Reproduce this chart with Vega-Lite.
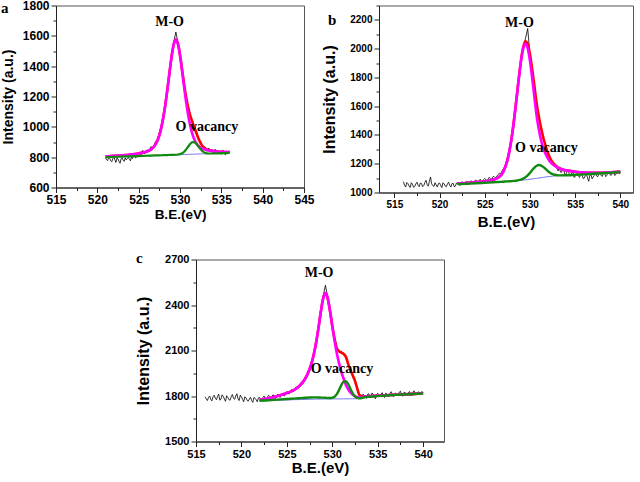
{
  "$schema": "https://vega.github.io/schema/vega-lite/v6.json",
  "padding": {"left": 0, "top": -1.5, "right": 0, "bottom": 0},
  "background": "white",
  "datasets": {
    "a_raw": [
      {"x":521,"y":795},{"x":521.25,"y":778},{"x":521.5,"y":792},{"x":521.75,"y":770},{"x":522,"y":800},{"x":522.25,"y":765},{"x":522.5,"y":788},{"x":522.75,"y":760},
      {"x":523,"y":795},{"x":523.25,"y":772},{"x":523.5,"y":782},{"x":523.75,"y":800},{"x":524,"y":776},{"x":524.25,"y":790},{"x":524.5,"y":812},{"x":524.75,"y":800},
      {"x":525,"y":832},{"x":525.25,"y":812},{"x":525.5,"y":845},{"x":525.75,"y":822},{"x":526,"y":848},{"x":526.25,"y":835},{"x":526.5,"y":870},{"x":526.75,"y":855},
      {"x":527,"y":900},{"x":527.25,"y":915},{"x":527.5,"y":960},{"x":527.75,"y":1010},{"x":528,"y":1080},{"x":528.25,"y":1150},{"x":528.5,"y":1270},{"x":528.75,"y":1360},
      {"x":529,"y":1480},{"x":529.25,"y":1560},{"x":529.5,"y":1625},{"x":529.75,"y":1555},{"x":530,"y":1490},{"x":530.25,"y":1365},{"x":530.5,"y":1295},{"x":530.75,"y":1180},
      {"x":531,"y":1140},{"x":531.25,"y":1060},{"x":531.5,"y":1045},{"x":531.75,"y":985},{"x":532,"y":970},{"x":532.25,"y":910},{"x":532.5,"y":905},{"x":532.75,"y":858},
      {"x":533,"y":870},{"x":533.25,"y":838},{"x":533.5,"y":860},{"x":533.75,"y":845},{"x":534,"y":830},{"x":534.25,"y":852},{"x":534.5,"y":822},{"x":534.75,"y":840},
      {"x":535,"y":818},{"x":535.25,"y":845},{"x":535.5,"y":815},{"x":535.75,"y":832},{"x":536,"y":838},
      {"x":521.125,"y":782},{"x":521.375,"y":800},{"x":521.625,"y":776},{"x":521.875,"y":790},{"x":522.125,"y":782},{"x":522.375,"y":795},{"x":522.625,"y":772},{"x":522.875,"y":790},
      {"x":523.125,"y":780},{"x":523.375,"y":796},{"x":523.625,"y":790},{"x":523.875,"y":786},{"x":524.125,"y":800},{"x":524.375,"y":808},{"x":524.625,"y":795},{"x":524.875,"y":818},
      {"x":525.125,"y":822},{"x":525.375,"y":830},{"x":525.625,"y":828},{"x":525.875,"y":840},{"x":526.125,"y":838},{"x":526.375,"y":852},{"x":526.625,"y":848},{"x":526.875,"y":878},
      {"x":533.125,"y":850},{"x":533.375,"y":848},{"x":533.625,"y":838},{"x":533.875,"y":852},{"x":534.125,"y":840},{"x":534.375,"y":835},{"x":534.625,"y":832},{"x":534.875,"y":828},
      {"x":535.125,"y":830},{"x":535.375,"y":826},{"x":535.625,"y":835},{"x":535.875,"y":826}
    ],
    "a_fit": [
      {"x":521,"fit":805,"mo":805,"ov":800,"bg":800},
      {"x":522,"fit":808.3,"mo":808.3,"ov":801.9,"bg":801.9},
      {"x":523,"fit":812.1,"mo":812.1,"ov":803.7,"bg":803.7},
      {"x":524,"fit":817.3,"mo":817.3,"ov":805.6,"bg":805.6},
      {"x":525,"fit":824.7,"mo":824.7,"ov":807.5,"bg":807.5},
      {"x":525.5,"fit":829.9,"mo":829.9,"ov":808.4,"bg":808.4},
      {"x":526,"fit":837.6,"mo":837.6,"ov":809.3,"bg":809.3},
      {"x":526.5,"fit":851.4,"mo":851.4,"ov":810.3,"bg":810.3},
      {"x":527,"fit":880.5,"mo":880.5,"ov":811.2,"bg":811.2},
      {"x":527.5,"fit":944.4,"mo":944.4,"ov":812.1,"bg":812.1},
      {"x":527.75,"fit":997.4,"mo":997.4,"ov":812.6,"bg":812.6},
      {"x":528,"fit":1067.5,"mo":1067.5,"ov":813.1,"bg":813.1},
      {"x":528.25,"fit":1155,"mo":1155,"ov":813.5,"bg":813.5},
      {"x":528.5,"fit":1257,"mo":1257,"ov":814,"bg":814},
      {"x":528.75,"fit":1366.3,"mo":1366.3,"ov":814.5,"bg":814.5},
      {"x":529,"fit":1469.3,"mo":1469.3,"ov":814.9,"bg":814.9},
      {"x":529.25,"fit":1546.4,"mo":1546.4,"ov":815.4,"bg":815.4},
      {"x":529.5,"fit":1575.9,"mo":1575.9,"ov":815.9,"bg":815.9},
      {"x":529.75,"fit":1548.5,"mo":1547.3,"ov":817.5,"bg":816.3},
      {"x":530,"fit":1474.7,"mo":1471.2,"ov":820.3,"bg":816.8},
      {"x":530.25,"fit":1377.7,"mo":1369.1,"ov":825.9,"bg":817.3},
      {"x":530.5,"fit":1278.9,"mo":1260.7,"ov":835.9,"bg":817.7},
      {"x":530.75,"fit":1192.8,"mo":1159.7,"ov":851.3,"bg":818.2},
      {"x":531,"fit":1124.6,"mo":1073.1,"ov":870.2,"bg":818.7},
      {"x":531.25,"fit":1072.8,"mo":1003.9,"ov":888,"bg":819.1},
      {"x":531.5,"fit":1030.9,"mo":951.9,"ov":898.6,"bg":819.6},
      {"x":531.75,"fit":992.9,"mo":915.1,"ov":897.9,"bg":820.1},
      {"x":532,"fit":955.6,"mo":889.8,"ov":886.3,"bg":820.5},
      {"x":532.25,"fit":921.2,"mo":873.4,"ov":868.8,"bg":821},
      {"x":532.5,"fit":892.4,"mo":862.6,"ov":851.3,"bg":821.5},
      {"x":532.75,"fit":871.4,"mo":855.5,"ov":837.8,"bg":821.9},
      {"x":533,"fit":858,"mo":850.7,"ov":829.7,"bg":822.4},
      {"x":533.5,"fit":845.8,"mo":844.8,"ov":824.3,"bg":823.3},
      {"x":534,"fit":840,"mo":840,"ov":824.3,"bg":824.3},
      {"x":535,"fit":835,"mo":835,"ov":826.1,"bg":826.1},
      {"x":536,"fit":833,"mo":833,"ov":828,"bg":828}
    ],
    "a_txt": [
      {"x":527.0,"y":1663,"t":"M-O"},
      {"x":529.47,"y":971,"t":"O vacancy"}
    ],
    "b_raw": [
      {"x":516,"y":1075},{"x":516.25,"y":1038},{"x":516.5,"y":1062},{"x":516.75,"y":1035},{"x":517,"y":1058},{"x":517.25,"y":1042},{"x":517.5,"y":1072},{"x":517.75,"y":1040},
      {"x":518,"y":1063},{"x":518.25,"y":1048},{"x":518.5,"y":1085},{"x":518.75,"y":1044},{"x":519,"y":1108},{"x":519.25,"y":1048},{"x":519.5,"y":1068},{"x":519.75,"y":1038},
      {"x":520,"y":1066},{"x":520.25,"y":1034},{"x":520.5,"y":1060},{"x":520.75,"y":1040},{"x":521,"y":1072},{"x":521.25,"y":1038},{"x":521.5,"y":1064},{"x":521.75,"y":1044},
      {"x":522,"y":1070},{"x":522.25,"y":1048},{"x":522.5,"y":1076},{"x":522.75,"y":1052},{"x":523,"y":1078},{"x":523.25,"y":1056},{"x":523.5,"y":1082},{"x":523.75,"y":1060},
      {"x":524,"y":1088},{"x":524.25,"y":1066},{"x":524.5,"y":1092},{"x":524.75,"y":1070},{"x":525,"y":1098},{"x":525.25,"y":1080},{"x":525.5,"y":1106},{"x":525.75,"y":1090},
      {"x":526,"y":1112},{"x":526.25,"y":1100},{"x":526.5,"y":1125},{"x":526.75,"y":1128},{"x":527,"y":1160},{"x":527.25,"y":1180},{"x":527.5,"y":1240},{"x":527.75,"y":1300},
      {"x":528,"y":1400},{"x":528.25,"y":1505},{"x":528.5,"y":1655},{"x":528.75,"y":1775},{"x":529,"y":1925},{"x":529.25,"y":2000},{"x":529.5,"y":2070},{"x":529.75,"y":2140},
      {"x":530,"y":1960},{"x":530.25,"y":1870},{"x":530.5,"y":1725},{"x":530.75,"y":1625},{"x":531,"y":1510},{"x":531.25,"y":1450},{"x":531.5,"y":1365},{"x":531.75,"y":1330},
      {"x":532,"y":1262},{"x":532.25,"y":1245},{"x":532.5,"y":1195},{"x":532.75,"y":1200},{"x":533,"y":1165},{"x":533.25,"y":1175},{"x":533.5,"y":1140},{"x":533.75,"y":1158},
      {"x":534,"y":1130},{"x":534.25,"y":1150},{"x":534.5,"y":1115},{"x":534.75,"y":1140},{"x":535,"y":1110},{"x":535.25,"y":1135},{"x":535.5,"y":1105},{"x":535.75,"y":1130},
      {"x":536,"y":1100},{"x":536.25,"y":1128},{"x":536.5,"y":1078},{"x":536.75,"y":1125},{"x":537,"y":1108},{"x":537.25,"y":1135},{"x":537.5,"y":1110},{"x":537.75,"y":1138},
      {"x":538,"y":1112},{"x":538.25,"y":1140},{"x":538.5,"y":1118},{"x":538.75,"y":1145},{"x":539,"y":1120},{"x":539.25,"y":1150},{"x":539.5,"y":1125},{"x":539.75,"y":1152},
      {"x":540,"y":1135},
      {"x":516.125,"y":1050},{"x":516.375,"y":1070},{"x":516.625,"y":1045},{"x":516.875,"y":1068},{"x":517.125,"y":1036},{"x":517.375,"y":1060},{"x":517.625,"y":1050},{"x":517.875,"y":1066},
      {"x":518.125,"y":1040},{"x":518.375,"y":1070},{"x":518.625,"y":1055},{"x":518.875,"y":1078},{"x":519.125,"y":1060},{"x":519.375,"y":1042},{"x":519.625,"y":1052},{"x":519.875,"y":1062},
      {"x":520.125,"y":1048},{"x":520.375,"y":1068},{"x":520.625,"y":1045},{"x":520.875,"y":1060},{"x":521.125,"y":1050},{"x":521.375,"y":1062},{"x":521.625,"y":1040},{"x":521.875,"y":1066},
      {"x":522.125,"y":1058},{"x":522.375,"y":1066},{"x":522.625,"y":1060},{"x":522.875,"y":1072},{"x":523.125,"y":1062},{"x":523.375,"y":1074},{"x":523.625,"y":1070},{"x":523.875,"y":1080},
      {"x":524.125,"y":1075},{"x":524.375,"y":1084},{"x":524.625,"y":1078},{"x":524.875,"y":1090},{"x":525.125,"y":1088},{"x":525.375,"y":1094},{"x":525.625,"y":1096},{"x":525.875,"y":1108},
      {"x":526.125,"y":1104},{"x":526.375,"y":1118},{"x":526.625,"y":1135},{"x":526.875,"y":1145},
      {"x":533.125,"y":1150},{"x":533.375,"y":1142},{"x":533.625,"y":1165},{"x":533.875,"y":1120},{"x":534.125,"y":1145},{"x":534.375,"y":1122},{"x":534.625,"y":1138},{"x":534.875,"y":1105},
      {"x":535.125,"y":1128},{"x":535.375,"y":1112},{"x":535.625,"y":1138},{"x":535.875,"y":1098},{"x":536.125,"y":1118},{"x":536.375,"y":1100},{"x":536.625,"y":1120},{"x":536.875,"y":1095},
      {"x":537.125,"y":1122},{"x":537.375,"y":1115},{"x":537.625,"y":1130},{"x":537.875,"y":1118},{"x":538.125,"y":1132},{"x":538.375,"y":1110},{"x":538.625,"y":1148},{"x":538.875,"y":1122},
      {"x":539.125,"y":1135},{"x":539.375,"y":1118},{"x":539.625,"y":1140},{"x":539.875,"y":1130}
    ],
    "b_fit": [
      {"x":522,"fit":1062,"mo":1062,"ov":1058,"bg":1058},
      {"x":523,"fit":1066.3,"mo":1066.3,"ov":1061,"bg":1061},
      {"x":524,"fit":1071.3,"mo":1071.3,"ov":1064,"bg":1064},
      {"x":525,"fit":1078.2,"mo":1078.2,"ov":1067.5,"bg":1067.5},
      {"x":526,"fit":1089.7,"mo":1089.7,"ov":1071,"bg":1071},
      {"x":526.5,"fit":1103.8,"mo":1103.8,"ov":1073,"bg":1073},
      {"x":527,"fit":1138.8,"mo":1138.8,"ov":1075,"bg":1075},
      {"x":527.5,"fit":1223.2,"mo":1223.2,"ov":1077,"bg":1077},
      {"x":527.75,"fit":1295,"mo":1295,"ov":1078,"bg":1078},
      {"x":528,"fit":1390.6,"mo":1390.6,"ov":1079,"bg":1079},
      {"x":528.25,"fit":1509.1,"mo":1509.1,"ov":1080.5,"bg":1080.5},
      {"x":528.5,"fit":1644.8,"mo":1644,"ov":1082.8,"bg":1082},
      {"x":528.75,"fit":1785.2,"mo":1783.1,"ov":1085.6,"bg":1083.5},
      {"x":529,"fit":1913.5,"mo":1908.9,"ov":1089.6,"bg":1085},
      {"x":529.25,"fit":2008.7,"mo":1999.3,"ov":1096.2,"bg":1086.8},
      {"x":529.5,"fit":2050.9,"mo":2033.5,"ov":1105.9,"bg":1088.5},
      {"x":529.75,"fit":2031.9,"mo":2002.7,"ov":1119.4,"bg":1090.2},
      {"x":530,"fit":1960.4,"mo":1915.9,"ov":1136.5,"bg":1092},
      {"x":530.25,"fit":1855.2,"mo":1793.8,"ov":1155.6,"bg":1094.2},
      {"x":530.5,"fit":1735.3,"mo":1658.5,"ov":1173.3,"bg":1096.5},
      {"x":530.75,"fit":1614.6,"mo":1527.4,"ov":1186,"bg":1098.8},
      {"x":531,"fit":1521.6,"mo":1431.8,"ov":1190.8,"bg":1101},
      {"x":531.25,"fit":1442.3,"mo":1358.4,"ov":1187.1,"bg":1103.2},
      {"x":531.5,"fit":1375.1,"mo":1304,"ov":1176.6,"bg":1105.5},
      {"x":531.75,"fit":1320.2,"mo":1265.6,"ov":1162.4,"bg":1107.8},
      {"x":532,"fit":1273.2,"mo":1235.2,"ov":1148,"bg":1110},
      {"x":532.25,"fit":1236,"mo":1212,"ov":1135.8,"bg":1111.8},
      {"x":532.5,"fit":1210.5,"mo":1196.7,"ov":1127.3,"bg":1113.5},
      {"x":533,"fit":1179,"mo":1175.6,"ov":1120.4,"bg":1117},
      {"x":533.5,"fit":1162.6,"mo":1162,"ov":1119.1,"bg":1118.5},
      {"x":534,"fit":1154,"mo":1154,"ov":1120,"bg":1120},
      {"x":535,"fit":1144.7,"mo":1144.7,"ov":1123,"bg":1123},
      {"x":536,"fit":1139.2,"mo":1139.2,"ov":1126,"bg":1126},
      {"x":537,"fit":1137.6,"mo":1137.6,"ov":1130,"bg":1130},
      {"x":538,"fit":1137.8,"mo":1137.8,"ov":1134,"bg":1134},
      {"x":539,"fit":1140.8,"mo":1140.8,"ov":1138,"bg":1138},
      {"x":540,"fit":1143.9,"mo":1143.9,"ov":1142,"bg":1142}
    ],
    "b_txt": [
      {"x":527.25,"y":2149,"t":"M-O"},
      {"x":528.35,"y":1282,"t":"O vacancy"}
    ],
    "c_raw": [
      {"x":516,"y":1795},{"x":516.25,"y":1770},{"x":516.5,"y":1800},{"x":516.75,"y":1768},{"x":517,"y":1805},{"x":517.25,"y":1775},{"x":517.5,"y":1812},{"x":517.75,"y":1780},
      {"x":518,"y":1798},{"x":518.25,"y":1765},{"x":518.5,"y":1790},{"x":518.75,"y":1772},{"x":519,"y":1810},{"x":519.25,"y":1778},{"x":519.5,"y":1815},{"x":519.75,"y":1770},
      {"x":520,"y":1795},{"x":520.25,"y":1762},{"x":520.5,"y":1788},{"x":520.75,"y":1765},{"x":521,"y":1792},{"x":521.25,"y":1758},{"x":521.5,"y":1785},{"x":521.75,"y":1762},
      {"x":522,"y":1790},{"x":522.25,"y":1768},{"x":522.5,"y":1800},{"x":522.75,"y":1775},{"x":523,"y":1805},{"x":523.25,"y":1778},{"x":523.5,"y":1808},{"x":523.75,"y":1782},
      {"x":524,"y":1812},{"x":524.25,"y":1790},{"x":524.5,"y":1818},{"x":524.75,"y":1800},{"x":525,"y":1830},{"x":525.25,"y":1812},{"x":525.5,"y":1842},{"x":525.75,"y":1830},
      {"x":526,"y":1860},{"x":526.25,"y":1850},{"x":526.5,"y":1885},{"x":526.75,"y":1880},{"x":527,"y":1925},{"x":527.25,"y":1930},{"x":527.5,"y":1985},{"x":527.75,"y":2030},
      {"x":528,"y":2095},{"x":528.25,"y":2160},{"x":528.5,"y":2270},{"x":528.75,"y":2350},{"x":529,"y":2460},{"x":529.25,"y":2530},{"x":529.5,"y":2450},{"x":529.75,"y":2375},
      {"x":530,"y":2255},{"x":530.25,"y":2190},{"x":530.5,"y":2120},{"x":530.75,"y":2090},{"x":531,"y":2095},{"x":531.25,"y":2070},{"x":531.5,"y":2065},{"x":531.75,"y":2005},
      {"x":532,"y":1980},{"x":532.25,"y":1925},{"x":532.5,"y":1910},{"x":532.75,"y":1840},{"x":533,"y":1815},{"x":533.25,"y":1790},{"x":533.5,"y":1805},{"x":533.75,"y":1785},
      {"x":534,"y":1815},{"x":534.25,"y":1790},{"x":534.5,"y":1812},{"x":534.75,"y":1782},{"x":535,"y":1818},{"x":535.25,"y":1795},{"x":535.5,"y":1822},{"x":535.75,"y":1790},
      {"x":536,"y":1815},{"x":536.25,"y":1798},{"x":536.5,"y":1828},{"x":536.75,"y":1795},{"x":537,"y":1820},{"x":537.25,"y":1800},{"x":537.5,"y":1832},{"x":537.75,"y":1798},
      {"x":538,"y":1825},{"x":538.25,"y":1805},{"x":538.5,"y":1830},{"x":538.75,"y":1800},{"x":539,"y":1835},{"x":539.25,"y":1808},{"x":539.5,"y":1828},{"x":539.75,"y":1810},
      {"x":540,"y":1822},
      {"x":516.125,"y":1782},{"x":516.375,"y":1790},{"x":516.625,"y":1778},{"x":516.875,"y":1795},{"x":517.125,"y":1785},{"x":517.375,"y":1798},{"x":517.625,"y":1772},{"x":517.875,"y":1808},
      {"x":518.125,"y":1780},{"x":518.375,"y":1802},{"x":518.625,"y":1776},{"x":518.875,"y":1795},{"x":519.125,"y":1785},{"x":519.375,"y":1800},{"x":519.625,"y":1782},{"x":519.875,"y":1806},
      {"x":520.125,"y":1778},{"x":520.375,"y":1795},{"x":520.625,"y":1772},{"x":520.875,"y":1780},{"x":521.125,"y":1770},{"x":521.375,"y":1790},{"x":521.625,"y":1775},{"x":521.875,"y":1788},
      {"x":522.125,"y":1780},{"x":522.375,"y":1792},{"x":522.625,"y":1782},{"x":522.875,"y":1796},{"x":523.125,"y":1790},{"x":523.375,"y":1800},{"x":523.625,"y":1788},{"x":523.875,"y":1802},
      {"x":524.125,"y":1798},{"x":524.375,"y":1808},{"x":524.625,"y":1805},{"x":524.875,"y":1820},
      {"x":533.125,"y":1800},{"x":533.375,"y":1812},{"x":533.625,"y":1795},{"x":533.875,"y":1810},{"x":534.125,"y":1795},{"x":534.375,"y":1820},{"x":534.625,"y":1798},{"x":534.875,"y":1808},
      {"x":535.125,"y":1805},{"x":535.375,"y":1812},{"x":535.625,"y":1800},{"x":535.875,"y":1818},{"x":536.125,"y":1802},{"x":536.375,"y":1822},{"x":536.625,"y":1808},{"x":536.875,"y":1815},
      {"x":537.125,"y":1806},{"x":537.375,"y":1825},{"x":537.625,"y":1810},{"x":537.875,"y":1822},{"x":538.125,"y":1812},{"x":538.375,"y":1820},{"x":538.625,"y":1808},{"x":538.875,"y":1826},
      {"x":539.125,"y":1815},{"x":539.375,"y":1822},{"x":539.625,"y":1812},{"x":539.875,"y":1830}
    ],
    "c_fit": [
      {"x":522,"fit":1775,"mo":1775,"ov":1769,"bg":1768},
      {"x":523,"fit":1785.4,"mo":1785.4,"ov":1772,"bg":1770},
      {"x":524,"fit":1799.9,"mo":1799.9,"ov":1776,"bg":1772},
      {"x":525,"fit":1819.4,"mo":1819.4,"ov":1780,"bg":1774},
      {"x":525.5,"fit":1830.3,"mo":1830.3,"ov":1782,"bg":1775},
      {"x":526,"fit":1847.8,"mo":1847.8,"ov":1784,"bg":1776},
      {"x":526.5,"fit":1873.1,"mo":1873.1,"ov":1786,"bg":1776.8},
      {"x":527,"fit":1912.1,"mo":1912.1,"ov":1788,"bg":1777.5},
      {"x":527.5,"fit":1976,"mo":1976,"ov":1790,"bg":1778.3},
      {"x":527.75,"fit":2022.7,"mo":2022.7,"ov":1790.5,"bg":1778.6},
      {"x":528,"fit":2083.6,"mo":2083.6,"ov":1791,"bg":1779},
      {"x":528.25,"fit":2161.5,"mo":2161.5,"ov":1791,"bg":1779.3},
      {"x":528.5,"fit":2256,"mo":2256,"ov":1790,"bg":1779.5},
      {"x":528.75,"fit":2358.3,"mo":2358.3,"ov":1789.5,"bg":1779.8},
      {"x":529,"fit":2443.7,"mo":2443.7,"ov":1789,"bg":1780},
      {"x":529.25,"fit":2478.3,"mo":2478.3,"ov":1788,"bg":1780.3},
      {"x":529.5,"fit":2443.6,"mo":2443.6,"ov":1787,"bg":1780.5},
      {"x":529.75,"fit":2361.4,"mo":2360.1,"ov":1786.8,"bg":1780.8},
      {"x":530,"fit":2263.7,"mo":2259.1,"ov":1788.1,"bg":1781},
      {"x":530.25,"fit":2178,"mo":2164.9,"ov":1795.3,"bg":1781},
      {"x":530.5,"fit":2115,"mo":2081.1,"ov":1811.9,"bg":1781},
      {"x":530.75,"fit":2095,"mo":2014.8,"ov":1839.7,"bg":1781},
      {"x":531,"fit":2086,"mo":1959,"ov":1871.6,"bg":1781},
      {"x":531.25,"fit":2078,"mo":1913.7,"ov":1894.8,"bg":1781.1},
      {"x":531.5,"fit":2058,"mo":1872,"ov":1897.4,"bg":1781.3},
      {"x":531.75,"fit":2012,"mo":1844.2,"ov":1877.8,"bg":1781.4},
      {"x":532,"fit":1972,"mo":1823.4,"ov":1846.6,"bg":1781.5},
      {"x":532.25,"fit":1936,"mo":1808.1,"ov":1817.4,"bg":1781.6},
      {"x":532.5,"fit":1900,"mo":1798.6,"ov":1797.8,"bg":1781.8},
      {"x":532.75,"fit":1850,"mo":1792.4,"ov":1787.7,"bg":1781.9},
      {"x":533,"fit":1806,"mo":1790,"ov":1785,"bg":1782},
      {"x":533.5,"fit":1797,"mo":1797,"ov":1791,"bg":null},
      {"x":534,"fit":1799,"mo":1799,"ov":1795,"bg":null},
      {"x":535,"fit":1802,"mo":1802,"ov":1799.5,"bg":null},
      {"x":536,"fit":1805,"mo":1805,"ov":1803.5,"bg":null},
      {"x":537,"fit":1808.5,"mo":1808.5,"ov":1807.5,"bg":null},
      {"x":538,"fit":1811,"mo":1811,"ov":1810.5,"bg":null},
      {"x":539,"fit":1814,"mo":1814,"ov":1813.5,"bg":null},
      {"x":540,"fit":1818,"mo":1818,"ov":1817.5,"bg":null}
    ],
    "c_txt": [
      {"x":526.97,"y":2583,"t":"M-O"},
      {"x":527.63,"y":1950,"t":"O vacancy"}
    ]
  },
  "vconcat": [
    {
      "hconcat": [
        {
          "width": 248,
          "height": 182,
          "title": {"text": "a", "anchor": "start", "frame": "group", "offset": 0, "baseline": "alphabetic", "dx": -55, "dy": 28, "font": "Liberation Serif", "fontSize": 15, "fontWeight": "bold", "color": "#000"},
          "encoding": {
            "x": {
              "field": "x", "type": "quantitative", "title": "B.E.(eV)",
              "scale": {"domain": [515, 545], "nice": false, "zero": false},
              "axis": {
                "values": [515, 517.5, 520, 522.5, 525, 527.5, 530, 532.5, 535, 537.5, 540, 542.5, 545],
                "labelExpr": "datum.value % 5 === 0 ? datum.label : ''",
                "tickSize": {"condition": {"test": "datum.value % 5 === 0", "value": 5}, "value": 3},
                "labelFontSize": 12, "titleFontSize": 13.5, "titlePadding": 2
              }
            }
          },
          "layer": [
            {
              "data": {"name": "a_raw"},
              "mark": {"type": "line", "color": "#000", "strokeWidth": 0.8},
              "encoding": {
                "y": {
                  "field": "y", "type": "quantitative", "title": "Intensity (a.u.)",
                  "scale": {"domain": [600, 1800], "nice": false, "zero": false},
                  "axis": {
                    "orient": "left", "values": [600, 800, 1000, 1200, 1400, 1600, 1800],
                    "labelOverlap": false, "labelSeparation": -40,
                    "format": "d", "labelFontSize": 12, "titleFontSize": 14, "titlePadding": 7
                  }
                }
              }
            },
            {
              "data": {"name": "a_fit"},
              "mark": {"type": "line", "color": "#ff0000", "strokeWidth": 2.6, "interpolate": "monotone"},
              "encoding": {"y": {"field": "fit", "type": "quantitative", "axis": null}}
            },
            {
              "data": {"name": "a_fit"},
              "mark": {"type": "line", "color": "#ff00ff", "strokeWidth": 2.6, "interpolate": "monotone"},
              "encoding": {"y": {"field": "mo", "type": "quantitative", "axis": null}}
            },
            {
              "data": {"name": "a_fit"},
              "mark": {"type": "line", "color": "#5555ee", "strokeWidth": 0.8},
              "encoding": {
                "y": {
                  "field": "bg", "type": "quantitative",
                  "axis": {"orient": "left", "values": [700, 900, 1100, 1300, 1500, 1700], "labels": false, "domain": false, "tickSize": 3, "title": null}
                }
              }
            },
            {
              "data": {"name": "a_fit"},
              "mark": {"type": "line", "color": "#108a10", "strokeWidth": 2.2, "interpolate": "monotone"},
              "encoding": {"y": {"field": "ov", "type": "quantitative", "axis": null}}
            },
            {
              "data": {"name": "a_txt"},
              "mark": {"type": "text", "align": "left", "baseline": "alphabetic", "font": "Liberation Serif", "fontSize": 14, "fontWeight": "bold", "color": "#000"},
              "encoding": {
                "y": {"field": "y", "type": "quantitative", "axis": null},
                "text": {"field": "t"}
              }
            }
          ],
          "resolve": {"axis": {"y": "independent"}}
        },
        {
          "width": 254,
          "height": 187,
          "title": {"text": "b", "anchor": "start", "frame": "group", "offset": 0, "baseline": "alphabetic", "dx": -51, "dy": 35, "font": "Liberation Serif", "fontSize": 15, "fontWeight": "bold", "color": "#000"},
          "encoding": {
            "x": {
              "field": "x", "type": "quantitative", "title": "B.E.(eV)",
              "scale": {"domain": [513.3, 541.4], "nice": false, "zero": false},
              "axis": {
                "values": [515, 517.5, 520, 522.5, 525, 527.5, 530, 532.5, 535, 537.5, 540],
                "labelExpr": "datum.value % 5 === 0 ? datum.label : ''",
                "tickSize": {"condition": {"test": "datum.value % 5 === 0", "value": 5}, "value": 3},
                "labelFontSize": 10, "titleFontSize": 15, "titlePadding": 5
              }
            }
          },
          "layer": [
            {
              "data": {"name": "b_raw"},
              "mark": {"type": "line", "color": "#000", "strokeWidth": 0.8},
              "encoding": {
                "y": {
                  "field": "y", "type": "quantitative", "title": "Intensity (a.u.)",
                  "scale": {"domain": [1000, 2300], "nice": false, "zero": false},
                  "axis": {
                    "orient": "left", "values": [1000, 1200, 1400, 1600, 1800, 2000, 2200],
                    "labelOverlap": false, "labelSeparation": -40,
                    "format": "d", "labelFontSize": 10, "titleFontSize": 16, "titlePadding": 12
                  }
                }
              }
            },
            {
              "data": {"name": "b_fit"},
              "mark": {"type": "line", "color": "#ff0000", "strokeWidth": 2.6, "interpolate": "monotone"},
              "encoding": {"y": {"field": "fit", "type": "quantitative", "axis": null}}
            },
            {
              "data": {"name": "b_fit"},
              "mark": {"type": "line", "color": "#ff00ff", "strokeWidth": 2.6, "interpolate": "monotone"},
              "encoding": {"y": {"field": "mo", "type": "quantitative", "axis": null}}
            },
            {
              "data": {"name": "b_fit"},
              "mark": {"type": "line", "color": "#5555ee", "strokeWidth": 0.8},
              "encoding": {
                "y": {
                  "field": "bg", "type": "quantitative",
                  "axis": {"orient": "left", "values": [1100, 1300, 1500, 1700, 1900, 2100, 2300], "labels": false, "domain": false, "tickSize": 3, "title": null}
                }
              }
            },
            {
              "data": {"name": "b_fit"},
              "mark": {"type": "line", "color": "#108a10", "strokeWidth": 2.4, "interpolate": "monotone"},
              "encoding": {"y": {"field": "ov", "type": "quantitative", "axis": null}}
            },
            {
              "data": {"name": "b_txt"},
              "mark": {"type": "text", "align": "left", "baseline": "alphabetic", "font": "Liberation Serif", "fontSize": 14, "fontWeight": "bold", "color": "#000"},
              "encoding": {
                "y": {"field": "y", "type": "quantitative", "axis": null},
                "text": {"field": "t"}
              }
            }
          ],
          "resolve": {"axis": {"y": "independent"}}
        }
      ],
      "spacing": 75,
      "bounds": "flush"
    },
    {
      "hconcat": [
        {
          "width": 140,
          "height": 182,
          "view": {"stroke": null, "fill": "white"},
          "data": {"values": []},
          "mark": "point"
        },
        {
          "width": 248,
          "height": 182,
          "title": {"text": "c", "anchor": "start", "frame": "group", "offset": 0, "baseline": "alphabetic", "dx": -60, "dy": 24, "font": "Liberation Serif", "fontSize": 15, "fontWeight": "bold", "color": "#000"},
          "encoding": {
            "x": {
              "field": "x", "type": "quantitative", "title": "B.E.(eV)",
              "scale": {"domain": [515, 542.3], "nice": false, "zero": false},
              "axis": {
                "values": [515, 517.5, 520, 522.5, 525, 527.5, 530, 532.5, 535, 537.5, 540],
                "labelExpr": "datum.value % 5 === 0 ? datum.label : ''",
                "tickSize": {"condition": {"test": "datum.value % 5 === 0", "value": 5}, "value": 3},
                "labelFontSize": 11, "titleFontSize": 15, "titlePadding": 1
              }
            }
          },
          "layer": [
            {
              "data": {"name": "c_raw"},
              "mark": {"type": "line", "color": "#000", "strokeWidth": 0.8},
              "encoding": {
                "y": {
                  "field": "y", "type": "quantitative", "title": "Intensity (a.u.)",
                  "scale": {"domain": [1500, 2700], "nice": false, "zero": false},
                  "axis": {
                    "orient": "left", "values": [1500, 1800, 2100, 2400, 2700],
                    "labelOverlap": false, "labelSeparation": -40,
                    "format": "d", "labelFontSize": 11, "titleFontSize": 16, "titlePadding": 13
                  }
                }
              }
            },
            {
              "data": {"name": "c_fit"},
              "mark": {"type": "line", "color": "#ff0000", "strokeWidth": 2.6, "interpolate": "monotone"},
              "encoding": {"y": {"field": "fit", "type": "quantitative", "axis": null}}
            },
            {
              "data": {"name": "c_fit"},
              "mark": {"type": "line", "color": "#ff00ff", "strokeWidth": 2.6, "interpolate": "monotone"},
              "encoding": {"y": {"field": "mo", "type": "quantitative", "axis": null}}
            },
            {
              "data": {"name": "c_fit"},
              "mark": {"type": "line", "color": "#5555ee", "strokeWidth": 0.8},
              "encoding": {
                "y": {
                  "field": "bg", "type": "quantitative",
                  "axis": {"orient": "left", "values": [1650, 1950, 2250, 2550], "labels": false, "domain": false, "tickSize": 3, "title": null}
                }
              }
            },
            {
              "data": {"name": "c_fit"},
              "mark": {"type": "line", "color": "#108a10", "strokeWidth": 2.4, "interpolate": "monotone"},
              "encoding": {"y": {"field": "ov", "type": "quantitative", "axis": null}}
            },
            {
              "data": {"name": "c_txt"},
              "mark": {"type": "text", "align": "left", "baseline": "alphabetic", "font": "Liberation Serif", "fontSize": 14, "fontWeight": "bold", "color": "#000"},
              "encoding": {
                "y": {"field": "y", "type": "quantitative", "axis": null},
                "text": {"field": "t"}
              }
            }
          ],
          "resolve": {"axis": {"y": "independent"}}
        }
      ],
      "spacing": 0,
      "bounds": "flush"
    }
  ],
  "spacing": 19,
  "config": {
    "view": {"stroke": "#555", "strokeWidth": 1},
    "axis": {
      "grid": false,
      "domainColor": "#222",
      "tickColor": "#222",
      "labelColor": "#000",
      "titleColor": "#000",
      "labelFont": "Liberation Sans",
      "titleFont": "Liberation Sans",
      "labelFontWeight": "bold",
      "titleFontWeight": "bold",
      "labelFlush": false,
      "labelPadding": 2
    }
  }
}
